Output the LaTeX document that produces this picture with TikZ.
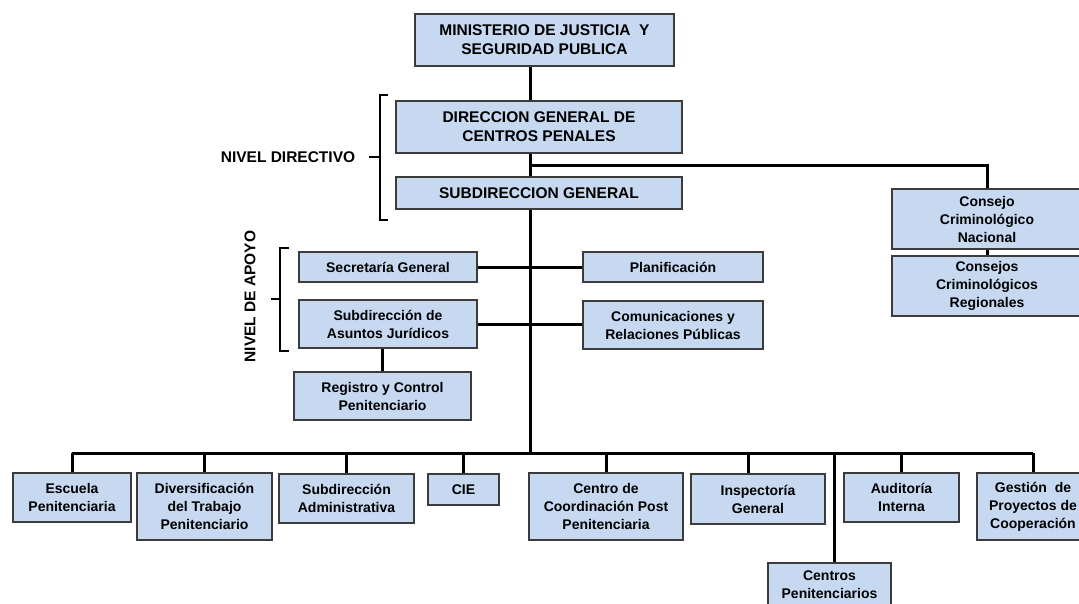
\documentclass[tikz,border=0pt]{standalone}
\usepackage{fontspec}
\setmainfont{Liberation Sans}
\definecolor{celeste}{RGB}{198,217,241}
\definecolor{borde}{RGB}{60,60,60}

\begin{document}
\begin{tikzpicture}[x=1pt,y=-1pt,
caja/.style={shape=rectangle, draw=borde, fill=celeste, line width=1.6pt, align=center, inner sep=0pt, font=\bfseries\fontsize{14}{18}\selectfont},
mayus/.style={font=\bfseries\fontsize{15.5}{19}\selectfont},
linea/.style={line width=3pt, black},
llave/.style={line width=2.4pt, black}]
\clip (0,0) rectangle (1079,604);
\fill[white] (0,0) rectangle (1079,604);

\node[caja, mayus, minimum width=259, minimum height=52] (ministerio) at (544.5,40) {MINISTERIO DE JUSTICIA\ \ Y\\SEGURIDAD PUBLICA};
\node[caja, mayus, minimum width=286, minimum height=52] (direccion) at (539,127) {DIRECCION GENERAL DE\\CENTROS PENALES};
\node[caja, mayus, minimum width=286, minimum height=32] (subdireccion) at (539,193) {SUBDIRECCION GENERAL};
\node[caja, minimum width=190, minimum height=60] (consejo) at (987,219) {Consejo\\Criminológico\\Nacional};
\node[caja, minimum width=190, minimum height=60] (regionales) at (987,286) {Consejos\\Criminológicos\\Regionales};
\node[caja, minimum width=178, minimum height=30] (secretaria) at (388,267) {Secretaría General};
\node[caja, minimum width=180, minimum height=30] (planificacion) at (673,267) {Planificación};
\node[caja, minimum width=178, minimum height=48] (juridicos) at (388,324) {Subdirección de\\Asuntos Jurídicos};
\node[caja, minimum width=180, minimum height=48] (comunicaciones) at (673,325) {Comunicaciones y\\Relaciones Públicas};
\node[caja, minimum width=177, minimum height=48] (registro) at (382.5,396) {Registro y Control\\Penitenciario};
\node[caja, minimum width=118, minimum height=49] (escuela) at (72,497.5) {Escuela\\Penitenciaria};
\node[caja, minimum width=135, minimum height=67] (diversificacion) at (204.5,506.5) {Diversificación\\del Trabajo\\Penitenciario};
\node[caja, minimum width=135, minimum height=49] (administrativa) at (346.5,498.5) {Subdirección\\Administrativa};
\node[caja, minimum width=71, minimum height=31] (cie) at (463.5,489.5) {CIE};
\node[caja, minimum width=154, minimum height=67] (coordinacion) at (606,506.5) {Centro de\\Coordinación Post\\Penitenciaria};
\node[caja, minimum width=134, minimum height=50] (inspectoria) at (758,499) {Inspectoría\\General};
\node[caja, minimum width=115, minimum height=49] (auditoria) at (901.5,497.5) {Auditoría\\Interna};
\node[caja, minimum width=112, minimum height=67] (gestion) at (1033,506.5) {Gestión\ \ de\\Proyectos de\\Cooperación};
\node[caja, minimum width=123, minimum height=44, anchor=north] (centros) at (829.5,562) {Centros\\Penitenciarios};

\node[font=\bfseries\fontsize{15.5}{19}\selectfont] (directivo) at (288,157) {NIVEL DIRECTIVO};
\node[font=\bfseries\fontsize{15.5}{19}\selectfont, rotate=90] (apoyo) at (250,296.5) {NIVEL DE APOYO};

\coordinate (eje) at (530,0);
\coordinate (rama) at (530,166);
\coordinate (bus) at (530,453);

\draw[linea] (ministerio.south -| eje) -- (direccion.north -| eje);
\draw[linea] (direccion.south -| eje) -- (subdireccion.north -| eje);
\draw[linea] (rama) -| (consejo.north);
\draw[linea] (consejo.south) -- (regionales.north);
\draw[linea] (subdireccion.south -| eje) -- (bus);
\draw[linea] (secretaria.east) -- (planificacion.west);
\draw[linea] (juridicos.east) -- (juridicos.east -| comunicaciones.west);
\draw[linea] (juridicos.south -| registro.north) -- (registro.north);
\draw[linea] (bus -| escuela.north) -- (bus -| gestion.north);
\foreach \n in {escuela,diversificacion,administrativa,cie,coordinacion,auditoria,gestion}
  \draw[linea] (bus -| \n.north) -- (\n.north);
\draw[linea] (bus -| 748,0) -- ([xshift=-10pt]inspectoria.north);
\draw[linea] (bus -| 834,0) -- ([xshift=4.5pt]centros.north);

\draw[llave] (388,95) -- (380,95) -- (380,220) -- (388,220);
\draw[llave] (380,157) -- (369,157);
\draw[llave] (289,248) -- (280,248) -- (280,351) -- (289,351);
\draw[llave] (280,299) -- (271,299);
\end{tikzpicture}
\end{document}
